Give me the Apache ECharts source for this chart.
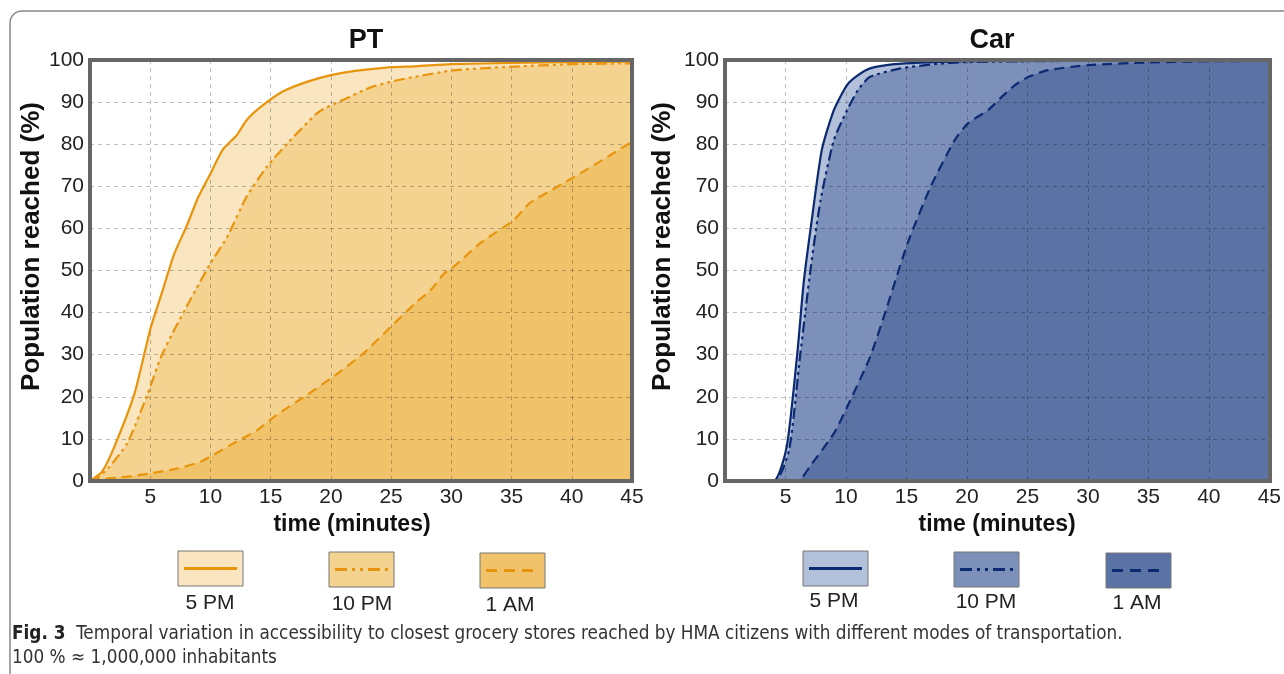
<!DOCTYPE html>
<html>
<head>
<meta charset="utf-8">
<script src="https://cdn.jsdelivr.net/npm/echarts@6/dist/echarts.min.js"></script>
<style>
  html,body{margin:0;padding:0;background:#fff;}
  #main{width:1284px;height:674px;}
</style>
</head>
<body>
<div id="main"></div>
<script>
  // time in minutes, share of population reached (%)
  var ptTime5pm = [0,1,2,3.7,5,6,7,8,9,10,11,12.2,13,14.2,16,18,20,22,25,27,30,35,40,45];
  var pt5pm     = [0,2.2,8,20.8,36,45,54,60.4,67.5,73,78.6,82.2,85.7,88.9,92.5,94.8,96.4,97.4,98.3,98.5,99,99.3,99.5,99.6];
  var ptTime10pm = [0,0.5,1.5,3.1,4.8,5.9,7,8.4,10,11.4,13,14.7,16.4,19,21,23.3,25.5,27,30,35,40,45];
  var pt10pm     = [0,0.5,3,9,20.8,29.5,35.9,43.4,51.7,58,67.5,74.7,80.2,87.7,90.5,93.5,95.2,96,97.5,98.4,99,99.2];
  var ptTime1am = [0,1,3,5,7.3,9.2,10,11.7,13.9,15.3,18,20.2,22.7,25,27,28.3,29.4,30.2,32.4,35.2,36.5,39.3,41.2,42.3,45];
  var pt1am     = [0,0.5,1,1.8,3,4.6,5.8,8.6,12.1,15.3,20.4,24.8,30.3,36.7,42.2,45.4,49.3,50.9,56.5,62,66,70.7,73.9,75.8,80.6];

  var carTime5pm = [0,4,5.1,6,6.5,7.1,8,9,10.1,11,12,14,16.2,20,25,30,35,40,45];
  var car5pm     = [0,0,8.1,31,47,60.4,78.6,88.1,94.1,96.4,98,99,99.4,99.7,99.8,99.9,99.9,99.9,99.9];
  var carTime10pm = [0,4.1,5.3,6.2,7.1,7.9,9,10.1,11,12,14.5,17.3,20,25,30,35,40,45];
  var car10pm     = [0,0,7.4,29.5,50.9,66.7,81,88.1,92.9,96,98,99,99.5,99.7,99.8,99.9,99.9,99.9];
  var carTime1am = [0,6,7.1,9,10.1,12,13.4,15.1,17,19,20.1,21.75,22.9,24,25.1,26.7,30.1,35,40,45];
  var car1am     = [0,0,3.8,11.3,17.6,29.5,41.4,56.5,69.9,81,85,88.1,91.3,94.1,96,97.6,98.8,99.4,99.7,99.8];

  var timeLabels = ['5','10','15','20','25','30','35','40','45'];
  var periods = ['5 PM','10 PM','1 AM'];

  var ptLine = '#e8940c', carLine = '#0c2a72';
  var ptFill = ['#f9e5bf','#f4d290','#f0c36a'];
  var carFill = ['#b3c0da','#7c90b9','#5b72a5'];
  var dashes = ['solid',[11,4,3,4,3,4],[10,6]];

  var font = 'Liberation Sans, Arial, sans-serif';
  var capFont = 'Liberation Sans Narrow, DejaVu Sans Condensed, sans-serif';
  var grids = [
    {left:90, top:60, width:542, height:421},
    {left:725, top:60, width:545, height:421}
  ];

  function pairs(xs, ys){
    return xs.map(function(x,i){ return [x, ys[i]]; });
  }

  var chart = echarts.init(document.getElementById('main'));

  var series = [];
  var sets = [
    {grid:0, fill:ptFill, line:ptLine, data:[pairs(ptTime5pm,pt5pm),pairs(ptTime10pm,pt10pm),pairs(ptTime1am,pt1am)]},
    {grid:1, fill:carFill, line:carLine, data:[pairs(carTime5pm,car5pm),pairs(carTime10pm,car10pm),pairs(carTime1am,car1am)]}
  ];
  sets.forEach(function(s){
    s.data.forEach(function(d,i){
      // filled area under the curve
      series.push({
        type:'line', xAxisIndex:s.grid, yAxisIndex:s.grid, data:d,
        showSymbol:false, smooth:0.2, z:2+i*0.1,
        lineStyle:{width:0}, areaStyle:{color:s.fill[i], opacity:1}
      });
      // curve itself, above the grid lines
      series.push({
        type:'line', xAxisIndex:s.grid, yAxisIndex:s.grid, data:d,
        showSymbol:false, smooth:0.2, z:5,
        lineStyle:{color:s.line, width:2.2, type:dashes[i]}
      });
    });
  });

  function xAxis(i, shift){
    return {
      gridIndex:i, type:'value', min:0, max:45, interval:5, z:3,
      name:'time (minutes)', nameLocation:'middle', nameGap:32,
      nameTextStyle:{fontFamily:font, fontWeight:'bold', fontSize:23, color:'#111', padding:[0,shift,0,0]},
      axisLine:{show:false}, axisTick:{show:false},
      axisLabel:{fontFamily:font, fontSize:21, color:'#222', margin:6,
        formatter:function(v){ return v === 0 ? '' : timeLabels[v/5-1]; }},
      splitLine:{show:true, lineStyle:{color:'rgba(0,0,0,0.25)', type:[4,4], width:1}}
    };
  }
  function yAxis(i, gap){
    return {
      gridIndex:i, type:'value', min:0, max:100, interval:10, z:3,
      name:'Population reached (%)', nameLocation:'middle', nameGap:gap, nameRotate:90,
      nameTextStyle:{fontFamily:font, fontWeight:'bold', fontSize:26, color:'#111', padding:[0,0,0,48]},
      axisLine:{show:false}, axisTick:{show:false},
      axisLabel:{fontFamily:font, fontSize:21, color:'#222', margin:6},
      splitLine:{show:true, lineStyle:{color:'rgba(0,0,0,0.25)', type:[4,4], width:1}}
    };
  }

  // legend swatches and plot frames
  var graphic = [
    {type:'rect', shape:{x:10, y:11, width:1300, height:700, r:12}, style:{fill:'none', stroke:'#888', lineWidth:1.5}, z:0}
  ];
  grids.forEach(function(g){
    graphic.push({type:'rect', shape:{x:g.left, y:g.top, width:g.width, height:g.height},
      style:{fill:'none', stroke:'#666', lineWidth:4}, z:10});
  });
  var legendX = [[178,329,480],[803,954,1106]];
  var legendLabelX = [[210,362,510],[834,986,1137]];
  sets.forEach(function(s,k){
    for (var i = 0; i < 3; i++){
      var x = legendX[k][i], y = 551 + i;
      graphic.push({type:'rect', shape:{x:x, y:y, width:65, height:35},
        style:{fill:s.fill[i], stroke:'#777', lineWidth:1}, z:10});
      graphic.push({type:'line', shape:{x1:x+6, y1:y+17.5, x2:x+59, y2:y+17.5},
        style:{stroke:s.line, lineWidth:3, lineDash:i === 0 ? null : (i === 1 ? [12,5,3,5,3,5] : [11,7])}, z:11});
      graphic.push({type:'text', x:legendLabelX[k][i], y:y+52 - k*2,
        style:{text:periods[i], fontFamily:font, fontSize:21, fill:'#222', align:'center', verticalAlign:'middle'}, z:11});
    }
  });
  graphic.push({type:'text', x:12, y:634,
    style:{text:'{b|Fig. 3}  Temporal variation in accessibility to closest grocery stores reached by HMA citizens with different modes of transportation.',
      rich:{b:{fontWeight:'bold', fontSize:18.8, fontFamily:capFont, fill:'#222'}},
      fontFamily:capFont, fontSize:18.8, fill:'#333', verticalAlign:'middle'}, z:11});
  graphic.push({type:'text', x:12, y:658,
    style:{text:'100 % \u2248 1,000,000 inhabitants',
      fontFamily:capFont, fontSize:18.8, fill:'#333', verticalAlign:'middle'}, z:11});

  chart.setOption({
    animation:false,
    backgroundColor:'#fff',
    title:[
      {text:'PT', left:361, top:22, textAlign:'center', textStyle:{fontFamily:font, fontWeight:'bold', fontSize:27, color:'#111'}},
      {text:'Car', left:987, top:22, textAlign:'center', textStyle:{fontFamily:font, fontWeight:'bold', fontSize:27, color:'#111'}}
    ],
    grid:grids.map(function(g){ return {left:g.left, top:g.top, width:g.width, height:g.height, containLabel:false}; }),
    xAxis:[xAxis(0,18), xAxis(1,0)],
    yAxis:[yAxis(0,43), yAxis(1,49)],
    series:series,
    graphic:graphic
  });
</script>
</body>
</html>
